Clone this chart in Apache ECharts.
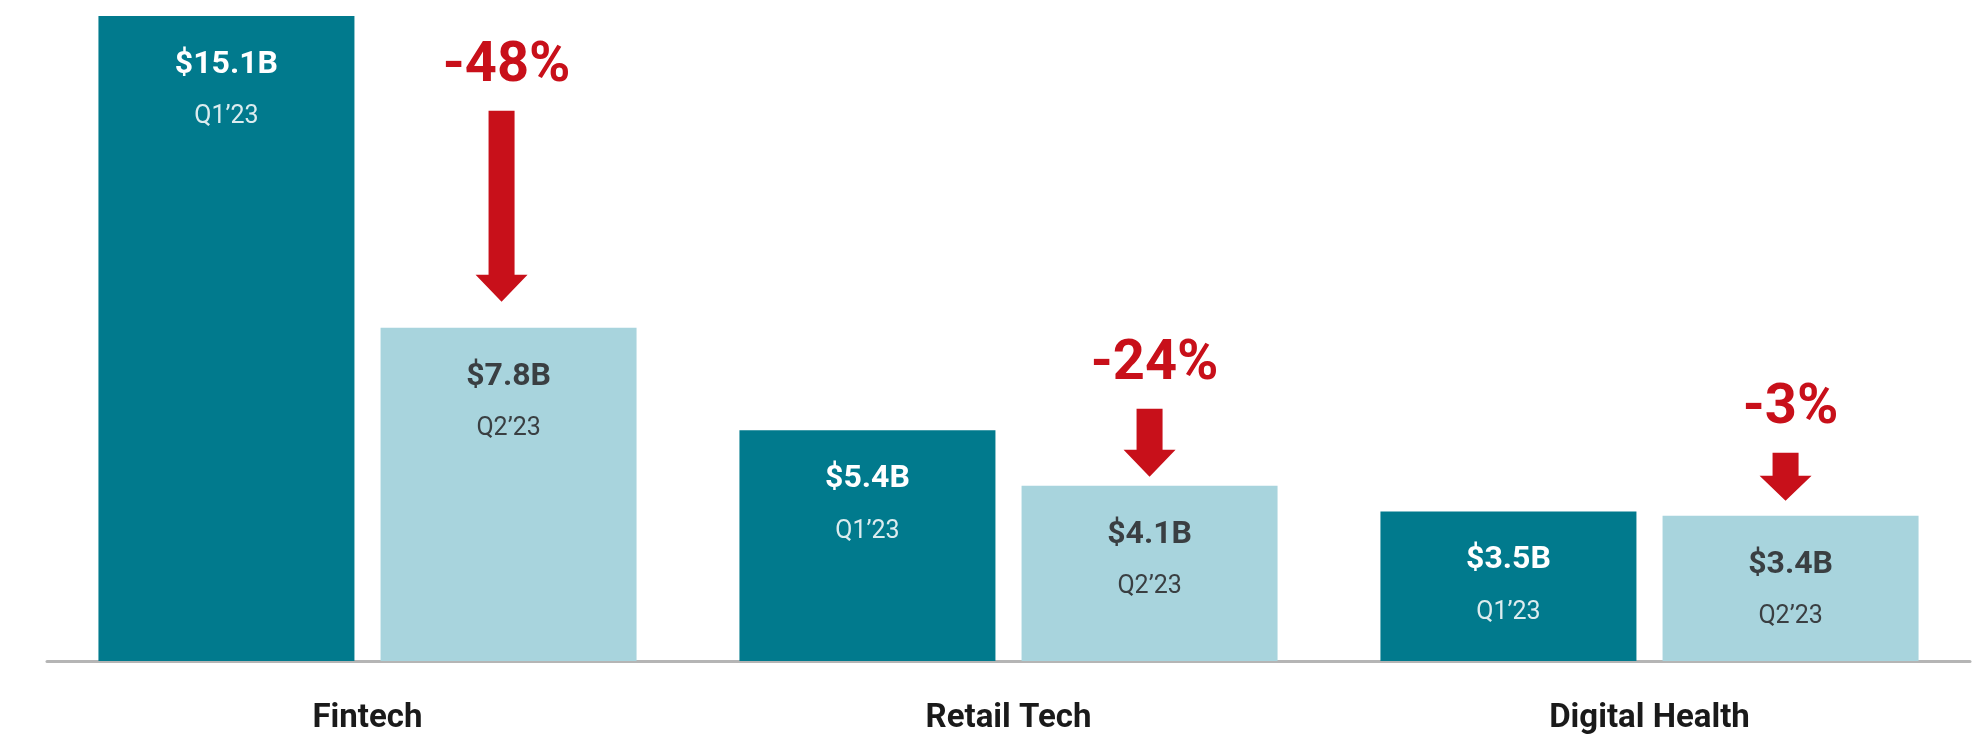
<!DOCTYPE html>
<html>
<head>
<meta charset="utf-8">
<script src="https://cdn.jsdelivr.net/npm/echarts@6/dist/echarts.min.js"></script>
<style>
    html, body { margin: 0; padding: 0; background: #fff; }
    #chart { width: 1983px; height: 735px; }
</style>
</head>
<body>
<div id="chart"></div>
<script>
// 数据
var categories = ['Fintech', 'Retail Tech', 'Digital Health'];
var q1Values = [15.1, 5.4, 3.5];
var q2Values = [7.8, 4.1, 3.4];
var quarterNames = ['Q1’23', 'Q2’23'];
var changeLabels = ['-48%', '-24%', '-3%'];

// arrow look (length, gap to bar, head height, x shift)
var arrowStyle = [
    { len: 191, gap: 26, head: 27, dx: -7 },
    { len: 68, gap: 9, head: 27, dx: 0 },
    { len: 48, gap: 15, head: 25, dx: -5 }
];

function arrowPath(len, head) {
    var b = len - head;
    return 'path://M13,0 L39,0 L39,' + b + ' L52,' + b + ' L26,' + len + ' L0,' + b + ' L13,' + b + ' Z';
}

function barLabel(valueColor, quarterColor, quarter) {
    return {
        show: true,
        position: 'insideTop',
        distance: 29,
        formatter: function (p) {
            return '{v|$' + p.value.toFixed(1) + 'B}\n{q|' + quarter + '}';
        },
        rich: {
            v: { fontFamily: 'Roboto', fontWeight: 'bold', fontSize: 32, lineHeight: 40, color: valueColor },
            q: { fontFamily: 'Roboto', fontSize: 25, lineHeight: 64, color: quarterColor }
        }
    };
}

var markData = changeLabels.map(function (txt, i) {
    var a = arrowStyle[i];
    return {
        coord: [i, q2Values[i]],
        symbol: arrowPath(a.len, a.head),
        symbolSize: [52, a.len],
        symbolOffset: [a.dx, -(a.gap + a.len / 2)],
        label: { formatter: txt }
    };
});

var option = {
    animation: false,
    backgroundColor: '#ffffff',
    grid: { left: 47, right: 13, top: 16, bottom: 74 },
    xAxis: {
        type: 'category',
        data: categories,
        axisLine: { show: true, lineStyle: { color: '#b5b5b5', width: 3 } },
        axisTick: { show: false },
        axisLabel: {
            margin: 41,
            fontFamily: 'Roboto',
            fontWeight: 'bold',
            fontSize: 33,
            color: '#1a1a1a'
        }
    },
    yAxis: {
        type: 'value',
        min: 0,
        max: 15.1,
        show: false,
        splitLine: { show: false }
    },
    series: [
        {
            name: quarterNames[0],
            type: 'bar',
            data: q1Values,
            barWidth: 256,
            barGap: '10.2%',
            itemStyle: { color: '#017a8d' },
            label: barLabel('#ffffff', '#dcecef', quarterNames[0])
        },
        {
            name: quarterNames[1],
            type: 'bar',
            data: q2Values,
            barWidth: 256,
            barGap: '10.2%',
            itemStyle: { color: '#a8d4dd' },
            label: barLabel('#3a3f42', '#3a3f42', quarterNames[1]),
            markPoint: {
                itemStyle: { color: '#c8101a' },
                label: {
                    show: true,
                    position: 'top',
                    distance: 16,
                    offset: [5, 0],
                    fontFamily: 'Roboto',
                    fontWeight: 'bold',
                    fontSize: 56,
                    color: '#c8101a'
                },
                data: markData
            }
        }
    ]
};

var chart = echarts.init(document.getElementById('chart'));
chart.setOption(option);
</script>
</body>
</html>
